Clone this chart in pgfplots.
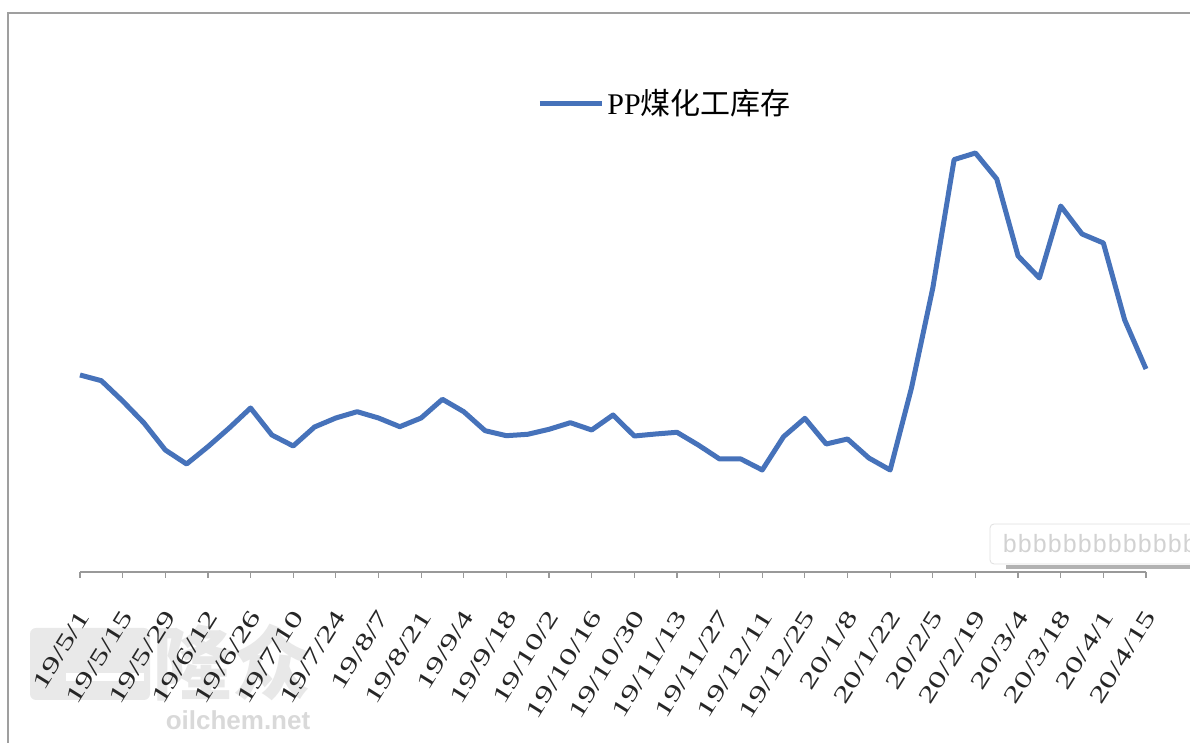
\documentclass[border=0pt]{standalone}
\usepackage{fontspec}
\setmainfont{Liberation Serif}
\newfontfamily\cjk{Noto Sans CJK SC}
\newfontfamily\sansf{Liberation Sans}
\newfontfamily\monof{Liberation Mono}
\usepackage{pgfplots}
\pgfplotsset{compat=1.18}
\definecolor{linecol}{RGB}{70,114,186}
\begin{document}
\begin{tikzpicture}
\useasboundingbox (0pt,0pt) rectangle (595pt,371.5pt);
% watermark
\fill[gray!17, rounded corners=3pt] (15pt,57.5pt) rectangle (75pt,21.5pt);
\fill[white] (33pt,35pt) rectangle (72pt,31pt);
\node[font=\cjk\bfseries\fontsize{40}{40}\selectfont, text=gray!18] at (116pt,40pt) {隆众};
\node[font=\sansf\bfseries\fontsize{13}{13}\selectfont, text=gray!30] at (119pt,11.5pt) {oilchem.net};
% frame
\draw[gray!75, line width=1.2pt] (4pt,0pt) -- (4pt,365pt) -- (600pt,365pt);
\begin{axis}[
  at={(40pt,85.5pt)}, anchor=south west,
  scale only axis, width=533pt, height=276pt,
  xmin=0, xmax=50, ymin=0, ymax=552,
  hide y axis,
  axis x line*=bottom,
  x axis line style={gray!80, line width=0.8pt},
  xtick={0,2,...,50},
  xticklabels={19/5/1,19/5/15,19/5/29,19/6/12,19/6/26,19/7/10,19/7/24,19/8/7,19/8/21,19/9/4,19/9/18,19/10/2,19/10/16,19/10/30,19/11/13,19/11/27,19/12/11,19/12/25,20/1/8,20/1/22,20/2/5,20/2/19,20/3/4,20/3/18,20/4/1,20/4/15},
  tick align=outside,
  xtick pos=bottom,
  major tick length=3pt,
  every tick/.style={gray!80, line width=0.6pt},
  xticklabel shift=17pt,
  xticklabel style={font=\fontsize{11.5}{11.5}\selectfont, text=black!85, inner sep=0pt, xshift=2.5pt, rotate=58, anchor=east, xscale=1.5},
  legend style={draw=none, fill=none, at={(0.4287,0.848)}, anchor=west, inner sep=0pt, font=\fontsize{15}{15}\selectfont, nodes={inner sep=1.5pt}},
  legend image code/.code={\draw[#1,line width=2.5pt] (0pt,0pt) -- (31pt,0pt);},
  clip=false,
]
\addplot[linecol, line width=2.5pt, line join=round, no markers] coordinates {
(0,197) (1,191.3) (2,171) (3,149) (4,122) (5,108) (6,125.3) (7,144) (8,164) (9,137)
(10,126) (11,145) (12,154) (13,160.3) (14,154) (15,145.3) (16,154) (17,172.7) (18,160.3) (19,141.3)
(20,136.3) (21,137.7) (22,142.7) (23,149.3) (24,142) (25,157) (26,136) (27,138) (28,139.7) (29,127)
(30,113) (31,113) (32,102) (33,135.3) (34,153.7) (35,128) (36,133) (37,114) (38,102) (39,184)
(40,284) (41,412.4) (42,419) (43,393) (44,316) (45,294) (46,366) (47,338) (48,329) (49,252)
(50,203)
};
\addlegendentry{PP{\cjk 煤化工库存}}
\end{axis}
% tooltip artifact
\draw[gray!60, line width=2pt] (503pt,88pt) -- (600pt,88pt);
\draw[gray!25, fill=white, rounded corners=2pt] (495pt,109.5pt) rectangle (600pt,89.5pt);
\node[anchor=west, font=\monof\fontsize{12.5}{12.5}\selectfont, text=gray!35, inner sep=0pt] at (501pt,99.5pt) {bbbbbbbbbbbbbb};
\end{tikzpicture}
\end{document}
